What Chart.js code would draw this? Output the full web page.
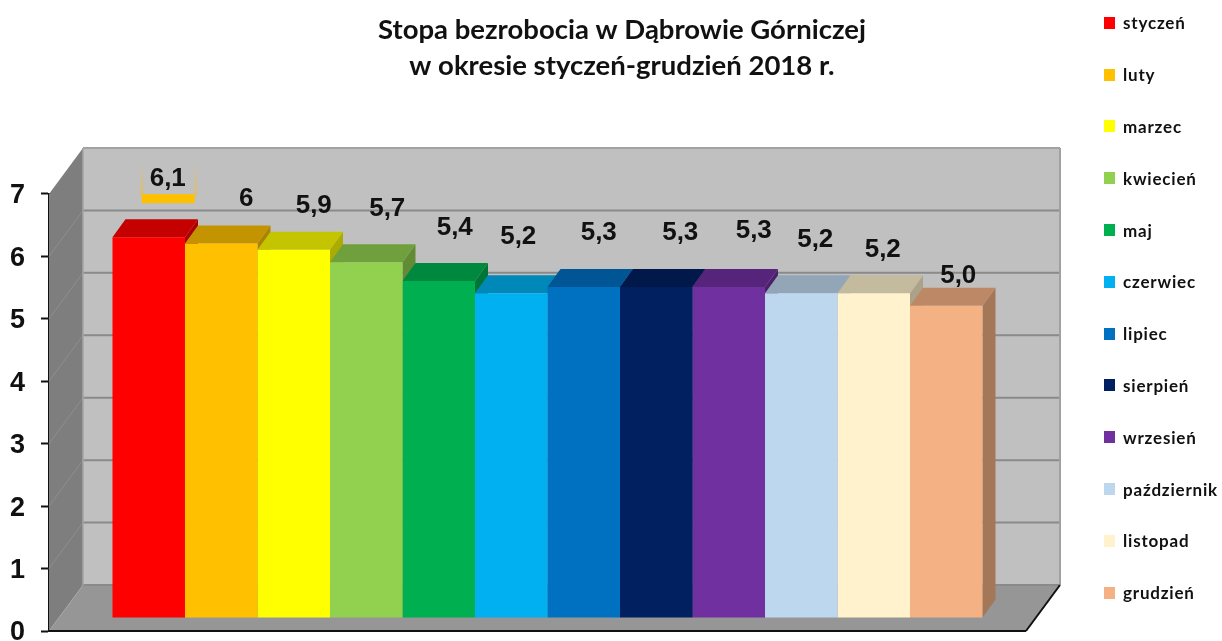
<!DOCTYPE html>
<html lang="pl">
<head>
<meta charset="utf-8">
<title>Stopa bezrobocia</title>
<script src="https://cdn.jsdelivr.net/npm/chart.js@4"></script>
<style>
    html, body { margin: 0; padding: 0; background: #fff; overflow: hidden; }
    #wrap { position: relative; width: 1222px; height: 641px; overflow: hidden; }
    #legend { position: absolute; left: 1104px; top: -3px; margin: 0; padding: 0; list-style: none; }
    #legend li { display: flex; align-items: center; height: 51.8px; font: bold 17px Lato, sans-serif; letter-spacing: 0.8px; color: #111; white-space: nowrap; }
    #legend span { display: block; width: 11px; height: 12px; margin-right: 8px; }
</style>
</head>
<body>
<div id="wrap">
    <!-- a bit wider than the window so the title centre lands where it should -->
    <canvas id="chart" width="1244" height="641"></canvas>
    <ul id="legend"></ul>
</div>
<script>
const months = ['styczeń', 'luty', 'marzec', 'kwiecień', 'maj', 'czerwiec', 'lipiec', 'sierpień', 'wrzesień', 'październik', 'listopad', 'grudzień'];
const rates = [6.1, 6.0, 5.9, 5.7, 5.4, 5.2, 5.3, 5.3, 5.3, 5.2, 5.2, 5.0];
const rateLabels = ['6,1', '6', '5,9', '5,7', '5,4', '5,2', '5,3', '5,3', '5,3', '5,2', '5,2', '5,0'];
const colors = ['#FF0000', '#FFC000', '#FFFF00', '#92D050', '#00B050', '#00B0F0', '#0070C0', '#002060', '#7030A0', '#BDD7EE', '#FFF2CC', '#F4B183'];
const titleLines = ['Stopa bezrobocia w Dąbrowie Górniczej', 'w okresie styczeń-grudzień 2018 r.'];
const yTicks = [0, 1, 2, 3, 4, 5, 6, 7];

// hand placed value labels, offset from the top of each bar
const labelNudges = [[19, -58], [25, -45], [20, -44], [21, -53], [16, -53], [7, -57], [15, -54], [24, -54], [25, -56], [14, -54], [9, -44], [12, -30]];

// 3D look: depth of the box and of the bars
const WALL_DX = 34, WALL_DY = -46;
const BAR_DX = 13, BAR_DY = -18;
const BAR_SHIFT_X = 10, BAR_SHIFT_Y = -13;

function shade(hex, f) {
    const n = parseInt(hex.slice(1), 16);
    return `rgb(${Math.round((n >> 16) * f)},${Math.round(((n >> 8) & 255) * f)},${Math.round((n & 255) * f)})`;
}

function poly(ctx, pts, fill) {
    ctx.beginPath();
    pts.forEach((p, i) => i ? ctx.lineTo(p[0], p[1]) : ctx.moveTo(p[0], p[1]));
    ctx.closePath();
    ctx.fillStyle = fill;
    ctx.fill();
}

function line(ctx, x1, y1, x2, y2, color, width) {
    ctx.beginPath();
    ctx.moveTo(x1, y1);
    ctx.lineTo(x2, y2);
    ctx.strokeStyle = color;
    ctx.lineWidth = width;
    ctx.stroke();
}

const box3d = {
    id: 'box3d',
    beforeDatasetsDraw(chart) {
        const ctx = chart.ctx;
        const { left, right } = chart.chartArea;
        const y = chart.scales.y;
        const y0 = y.getPixelForValue(0), yTop = y.getPixelForValue(7);

        // back wall, side wall, floor
        poly(ctx, [[left + WALL_DX, yTop + WALL_DY], [right + WALL_DX, yTop + WALL_DY], [right + WALL_DX, y0 + WALL_DY], [left + WALL_DX, y0 + WALL_DY]], '#C0C0C0');
        poly(ctx, [[left, yTop], [left + WALL_DX, yTop + WALL_DY], [left + WALL_DX, y0 + WALL_DY], [left, y0]], '#7E7E7E');
        poly(ctx, [[left, y0], [left + WALL_DX, y0 + WALL_DY], [right + WALL_DX, y0 + WALL_DY], [right, y0]], '#969696');

        // grid lines on both walls
        yTicks.forEach(v => {
            const py = y.getPixelForValue(v);
            if (v > 0 && v < 7) line(ctx, left, py, left + WALL_DX, py + WALL_DY, '#8E8E8E', 1);
            line(ctx, left + WALL_DX, py + WALL_DY, right + WALL_DX, py + WALL_DY, v === 7 ? '#A2A2A2' : '#8A8A8A', 2);
        });
        line(ctx, left + WALL_DX, yTop + WALL_DY, left + WALL_DX, y0 + WALL_DY, '#A6A6A6', 1.5);
        line(ctx, right + WALL_DX, yTop + WALL_DY, right + WALL_DX, y0 + WALL_DY, '#A0A0A0', 2);
        line(ctx, left, y0, right, y0, '#111', 2);
        line(ctx, right, y0, right + WALL_DX, y0 + WALL_DY, '#111', 2);

        // bars stand a little inside the floor, the library draws the fronts after this
        ctx.save();
        ctx.translate(BAR_SHIFT_X, BAR_SHIFT_Y);
        chart.data.datasets.forEach((ds, i) => {
            const bar = chart.getDatasetMeta(i).data[0];
            const x0 = bar.x - bar.width / 2, x1 = bar.x + bar.width / 2;
            poly(ctx, [[x1, bar.y], [x1 + BAR_DX, bar.y + BAR_DY], [x1 + BAR_DX, bar.base + BAR_DY], [x1, bar.base]], shade(colors[i], 0.67));
            poly(ctx, [[x0, bar.y], [x0 + BAR_DX, bar.y + BAR_DY], [x1 + BAR_DX, bar.y + BAR_DY], [x1, bar.y]], shade(colors[i], 0.77));
        });
    },
    afterDatasetsDraw(chart) {
        const ctx = chart.ctx;
        ctx.restore();

        const points = chart.data.datasets.map((ds, i) => {
            const bar = chart.getDatasetMeta(i).data[0];
            return [bar.x + BAR_SHIFT_X + labelNudges[i][0], bar.y + BAR_SHIFT_Y + labelNudges[i][1]];
        });

        // leftover selection mark under the first label
        const [hx, hy] = points[0];
        const grad = ctx.createLinearGradient(0, hy - 15, 0, hy + 16);
        grad.addColorStop(0, 'rgba(255,192,0,0)');
        grad.addColorStop(1, 'rgba(255,192,0,0.6)');
        ctx.fillStyle = grad;
        ctx.fillRect(hx - 27, hy - 15, 2, 31);
        ctx.fillRect(hx + 27, hy - 15, 2, 31);
        ctx.fillStyle = '#FFC000';
        ctx.fillRect(hx - 26, hy + 15, 53, 9);

        ctx.font = 'bold 26px "Liberation Sans", Arial, sans-serif';
        ctx.fillStyle = '#111';
        ctx.textAlign = 'center';
        ctx.textBaseline = 'middle';
        rateLabels.forEach((t, i) => ctx.fillText(t, points[i][0], points[i][1]));
    }
};

// legend list next to the canvas, filled from the chart's own legend items
const htmlLegend = {
    id: 'htmlLegend',
    afterUpdate(chart) {
        const ul = document.getElementById('legend');
        ul.innerHTML = '';
        chart.options.plugins.legend.labels.generateLabels(chart).forEach(item => {
            const li = document.createElement('li');
            const swatch = document.createElement('span');
            swatch.style.background = item.fillStyle;
            li.appendChild(swatch);
            li.appendChild(document.createTextNode(item.text));
            ul.appendChild(li);
        });
    }
};

new Chart(document.getElementById('chart'), {
    type: 'bar',
    data: {
        labels: ['2018'],
        datasets: months.map((m, i) => ({
            label: m,
            data: [rates[i]],
            backgroundColor: colors[i],
            borderWidth: 0,
            categoryPercentage: 0.8905,
            barPercentage: 1,
            clip: false
        }))
    },
    plugins: [box3d, htmlLegend],
    options: {
        responsive: false,
        animation: false,
        layout: { padding: { left: 0, right: 0, top: 0, bottom: 10 } },
        plugins: {
            legend: { display: false },
            tooltip: { enabled: false },
            title: {
                display: true,
                text: titleLines,
                color: '#111',
                font: { family: 'Lato, sans-serif', size: 27.5, weight: 'bold', lineHeight: 1.309 },
                padding: { top: 12, bottom: 110 }
            }
        },
        scales: {
            x: { display: false },
            y: {
                min: 0,
                max: 7,
                afterBuildTicks(scale) { scale.ticks = yTicks.map(v => ({ value: v })); },
                afterFit(scale) {
                    scale.width = 49;
                    scale.paddingTop = 0;
                    scale.paddingBottom = 0;
                },
                grid: { drawOnChartArea: false, tickLength: 8, tickColor: '#111', tickWidth: 2 },
                border: { color: '#111', width: 2 },
                ticks: {
                    color: '#111',
                    padding: 16,
                    labelOffset: 2,
                    font: { family: '"Liberation Sans", Arial, sans-serif', size: 27, weight: 'bold' }
                }
            },
            // empty axis, only keeps the plot clear of the legend column
            spare: {
                type: 'linear',
                position: 'right',
                afterFit(scale) { scale.width = 218; },
                grid: { display: false },
                border: { display: false },
                ticks: { display: false }
            }
        }
    }
});
</script>
</body>
</html>
